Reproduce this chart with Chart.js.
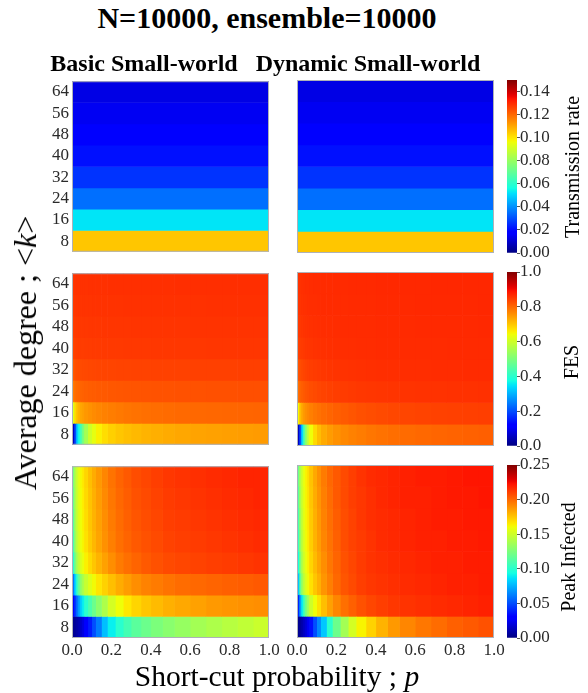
<!DOCTYPE html>
<html>
<head>
<meta charset="utf-8">
<script src="https://cdn.jsdelivr.net/npm/chart.js@4.4.0/dist/chart.umd.min.js"></script>
<style>
  body { margin: 0; background: #fff; }
  #figura { position: relative; width: 588px; height: 693px; background: #fff; overflow: hidden;
            font-family: 'Liberation Serif', 'Times New Roman', serif; color: #000; }
  #figura canvas { position: absolute; }
  .texto { position: absolute; white-space: nowrap; line-height: 1; transform: translate(-50%, -50%); }
  .negrito { font-weight: bold; }
  .vertical { transform: translate(-50%, -50%) rotate(-90deg); }
</style>
</head>
<body>
<div id="figura">
  <canvas id="taxa_basica" width="251" height="197" style="left:32px;top:68px"></canvas>
  <canvas id="taxa_dinamica" width="251" height="197" style="left:257px;top:68px"></canvas>
  <canvas id="barra_taxa" width="65" height="197" style="left:507px;top:68px"></canvas>

  <canvas id="fes_basica" width="251" height="198" style="left:32px;top:260px"></canvas>
  <canvas id="fes_dinamica" width="251" height="198" style="left:257px;top:260px"></canvas>
  <canvas id="barra_fes" width="65" height="198" style="left:507px;top:260px"></canvas>

  <canvas id="pico_basica" width="251" height="223" style="left:32px;top:453px"></canvas>
  <canvas id="pico_dinamica" width="251" height="223" style="left:257px;top:453px"></canvas>
  <canvas id="barra_pico" width="65" height="197" style="left:507px;top:453px"></canvas>

  <div class="texto negrito" style="left:267px;top:18px;font-size:30px">N=10000, ensemble=10000</div>
  <div class="texto negrito" style="left:144px;top:63px;font-size:24px">Basic Small-world</div>
  <div class="texto negrito" style="left:368px;top:63px;font-size:24px">Dynamic Small-world</div>
  <div class="texto vertical" style="left:25px;top:353px;font-size:32px">Average degree ; &lt;<i>k</i>&gt;</div>
  <div class="texto" style="left:277px;top:677px;font-size:29.5px">Short-cut probability ; <i>p</i></div>
  <div class="texto vertical" style="left:572px;top:167px;font-size:20px">Transmission rate</div>
  <div class="texto vertical" style="left:571px;top:362px;font-size:20px">FES</div>
  <div class="texto vertical" style="left:568px;top:557px;font-size:20px">Peak Infected</div>
</div>

<script>
// grau medio <k> de cada linha e bordas das faixas de p
const graus = [8, 16, 24, 32, 40, 48, 56, 64];
const pBordas = [0, 0.01, 0.02, 0.03, 0.04, 0.05, 0.06, 0.08, 0.10, 0.12, 0.15, 0.18,
                 0.22, 0.26, 0.30, 0.35, 0.40, 0.46, 0.52, 0.60, 0.68, 0.76, 0.84, 0.92, 1.0];

// rotulos dos eixos
const rotulosP = [0, 0.2, 0.4, 0.6, 0.8, 1.0];
const rotulosTaxa = [0, 0.02, 0.04, 0.06, 0.08, 0.10, 0.12, 0.14];
const rotulosFes = [0, 0.2, 0.4, 0.6, 0.8, 1.0];
const rotulosPico = [0, 0.05, 0.10, 0.15, 0.20, 0.25];

// taxa de transmissao (nao depende de p)
const taxaBasica = [0.105, 0.0525, 0.035, 0.0262, 0.021, 0.0175, 0.015, 0.0131];
const taxaDinamica = [0.105, 0.0525, 0.035, 0.0262, 0.021, 0.0175, 0.015, 0.0131];

// FES, uma linha por grau, uma coluna por faixa de p
const fesBasica = [
  [0.06, 0.20, 0.33, 0.38, 0.44, 0.50, 0.55, 0.60, 0.63, 0.655, 0.675, 0.69, 0.70, 0.708, 0.714, 0.72, 0.725, 0.729, 0.733, 0.737, 0.74, 0.742, 0.744, 0.746],
  [0.62, 0.68, 0.71, 0.725, 0.735, 0.742, 0.75, 0.757, 0.763, 0.768, 0.773, 0.778, 0.782, 0.786, 0.789, 0.792, 0.795, 0.797, 0.799, 0.80, 0.801, 0.802, 0.803, 0.804],
  [0.78, 0.795, 0.80, 0.803, 0.805, 0.807, 0.809, 0.811, 0.813, 0.815, 0.816, 0.818, 0.819, 0.82, 0.821, 0.822, 0.823, 0.823, 0.824, 0.824, 0.825, 0.825, 0.826, 0.826],
  [0.815, 0.825, 0.828, 0.83, 0.832, 0.833, 0.834, 0.835, 0.836, 0.837, 0.838, 0.838, 0.839, 0.839, 0.84, 0.84, 0.841, 0.841, 0.841, 0.842, 0.842, 0.842, 0.843, 0.843],
  [0.838, 0.843, 0.845, 0.846, 0.847, 0.847, 0.848, 0.848, 0.849, 0.849, 0.85, 0.85, 0.85, 0.851, 0.851, 0.851, 0.852, 0.852, 0.852, 0.852, 0.853, 0.853, 0.853, 0.853],
  [0.845, 0.849, 0.85, 0.851, 0.851, 0.852, 0.852, 0.853, 0.853, 0.853, 0.854, 0.854, 0.854, 0.854, 0.855, 0.855, 0.855, 0.855, 0.855, 0.856, 0.856, 0.856, 0.856, 0.856],
  [0.85, 0.853, 0.854, 0.855, 0.855, 0.856, 0.856, 0.856, 0.857, 0.857, 0.857, 0.857, 0.857, 0.858, 0.858, 0.858, 0.858, 0.858, 0.858, 0.858, 0.859, 0.859, 0.859, 0.859],
  [0.853, 0.856, 0.857, 0.857, 0.858, 0.858, 0.858, 0.859, 0.859, 0.859, 0.859, 0.86, 0.86, 0.86, 0.86, 0.86, 0.86, 0.86, 0.861, 0.861, 0.861, 0.861, 0.861, 0.861]
];
const fesDinamica = [
  [0.06, 0.20, 0.34, 0.45, 0.53, 0.59, 0.64, 0.68, 0.71, 0.73, 0.745, 0.757, 0.766, 0.773, 0.779, 0.785, 0.789, 0.793, 0.797, 0.80, 0.803, 0.805, 0.807, 0.809],
  [0.65, 0.71, 0.735, 0.75, 0.76, 0.768, 0.776, 0.784, 0.79, 0.797, 0.803, 0.809, 0.815, 0.82, 0.825, 0.829, 0.832, 0.835, 0.837, 0.839, 0.841, 0.842, 0.843, 0.844],
  [0.79, 0.805, 0.812, 0.817, 0.821, 0.824, 0.828, 0.832, 0.836, 0.839, 0.842, 0.845, 0.848, 0.85, 0.852, 0.853, 0.854, 0.855, 0.856, 0.857, 0.857, 0.858, 0.858, 0.859],
  [0.82, 0.83, 0.835, 0.838, 0.841, 0.843, 0.845, 0.848, 0.85, 0.852, 0.854, 0.856, 0.857, 0.858, 0.859, 0.86, 0.861, 0.861, 0.862, 0.862, 0.863, 0.863, 0.864, 0.864],
  [0.84, 0.846, 0.849, 0.851, 0.853, 0.854, 0.855, 0.857, 0.858, 0.859, 0.86, 0.861, 0.862, 0.862, 0.863, 0.863, 0.864, 0.864, 0.865, 0.865, 0.865, 0.866, 0.866, 0.866],
  [0.848, 0.852, 0.854, 0.856, 0.857, 0.858, 0.859, 0.86, 0.861, 0.862, 0.862, 0.863, 0.864, 0.864, 0.865, 0.865, 0.866, 0.866, 0.866, 0.867, 0.867, 0.867, 0.867, 0.868],
  [0.852, 0.856, 0.858, 0.859, 0.86, 0.861, 0.862, 0.862, 0.863, 0.864, 0.864, 0.865, 0.865, 0.866, 0.866, 0.866, 0.867, 0.867, 0.867, 0.868, 0.868, 0.868, 0.868, 0.869],
  [0.855, 0.858, 0.86, 0.861, 0.862, 0.862, 0.863, 0.864, 0.864, 0.865, 0.865, 0.866, 0.866, 0.867, 0.867, 0.867, 0.868, 0.868, 0.868, 0.868, 0.869, 0.869, 0.869, 0.869]
];

// pico de infectados
const picoBasica = [
  [0.004, 0.006, 0.009, 0.012, 0.016, 0.021, 0.028, 0.038, 0.05, 0.062, 0.078, 0.09, 0.10, 0.108, 0.115, 0.12, 0.125, 0.129, 0.133, 0.137, 0.14, 0.143, 0.146, 0.149],
  [0.03, 0.045, 0.06, 0.072, 0.082, 0.09, 0.10, 0.11, 0.12, 0.13, 0.14, 0.152, 0.16, 0.166, 0.171, 0.175, 0.178, 0.181, 0.183, 0.185, 0.187, 0.188, 0.189, 0.19],
  [0.06, 0.085, 0.105, 0.12, 0.132, 0.14, 0.148, 0.155, 0.161, 0.167, 0.172, 0.177, 0.182, 0.186, 0.19, 0.193, 0.195, 0.197, 0.199, 0.20, 0.201, 0.202, 0.203, 0.204],
  [0.10, 0.125, 0.14, 0.148, 0.154, 0.159, 0.164, 0.17, 0.175, 0.18, 0.185, 0.19, 0.195, 0.198, 0.201, 0.204, 0.206, 0.208, 0.209, 0.21, 0.211, 0.212, 0.213, 0.214],
  [0.11, 0.135, 0.147, 0.154, 0.159, 0.163, 0.168, 0.174, 0.179, 0.184, 0.189, 0.194, 0.198, 0.201, 0.204, 0.206, 0.208, 0.21, 0.211, 0.212, 0.213, 0.214, 0.215, 0.216],
  [0.115, 0.138, 0.149, 0.156, 0.16, 0.164, 0.169, 0.175, 0.18, 0.185, 0.19, 0.195, 0.199, 0.202, 0.205, 0.207, 0.209, 0.211, 0.212, 0.213, 0.214, 0.215, 0.216, 0.217],
  [0.12, 0.14, 0.15, 0.157, 0.161, 0.165, 0.17, 0.176, 0.181, 0.186, 0.191, 0.196, 0.20, 0.203, 0.206, 0.208, 0.21, 0.212, 0.213, 0.214, 0.215, 0.216, 0.217, 0.218],
  [0.125, 0.142, 0.151, 0.158, 0.162, 0.166, 0.171, 0.177, 0.182, 0.187, 0.192, 0.197, 0.201, 0.204, 0.207, 0.209, 0.211, 0.213, 0.214, 0.215, 0.216, 0.217, 0.218, 0.218]
];
const picoDinamica = [
  [0.004, 0.006, 0.01, 0.015, 0.02, 0.026, 0.035, 0.05, 0.065, 0.08, 0.10, 0.12, 0.137, 0.152, 0.163, 0.172, 0.18, 0.187, 0.192, 0.196, 0.199, 0.202, 0.204, 0.206],
  [0.04, 0.07, 0.09, 0.11, 0.125, 0.137, 0.15, 0.16, 0.168, 0.177, 0.185, 0.192, 0.198, 0.202, 0.206, 0.209, 0.211, 0.213, 0.214, 0.215, 0.216, 0.217, 0.218, 0.219],
  [0.08, 0.115, 0.135, 0.147, 0.155, 0.161, 0.168, 0.175, 0.181, 0.188, 0.194, 0.20, 0.205, 0.208, 0.211, 0.213, 0.214, 0.215, 0.216, 0.217, 0.218, 0.219, 0.219, 0.22],
  [0.095, 0.125, 0.142, 0.152, 0.159, 0.164, 0.171, 0.178, 0.184, 0.19, 0.196, 0.201, 0.206, 0.209, 0.212, 0.214, 0.215, 0.216, 0.217, 0.218, 0.219, 0.219, 0.22, 0.22],
  [0.105, 0.132, 0.146, 0.155, 0.161, 0.166, 0.173, 0.18, 0.186, 0.192, 0.197, 0.202, 0.207, 0.21, 0.212, 0.214, 0.216, 0.217, 0.218, 0.219, 0.219, 0.22, 0.22, 0.221],
  [0.11, 0.135, 0.148, 0.157, 0.162, 0.167, 0.174, 0.181, 0.187, 0.193, 0.198, 0.203, 0.207, 0.21, 0.213, 0.215, 0.216, 0.217, 0.218, 0.219, 0.22, 0.22, 0.221, 0.221],
  [0.115, 0.138, 0.15, 0.158, 0.163, 0.168, 0.175, 0.182, 0.188, 0.194, 0.199, 0.204, 0.208, 0.211, 0.213, 0.215, 0.217, 0.218, 0.219, 0.219, 0.22, 0.221, 0.221, 0.222],
  [0.12, 0.14, 0.151, 0.159, 0.164, 0.169, 0.176, 0.183, 0.189, 0.195, 0.20, 0.204, 0.208, 0.211, 0.214, 0.216, 0.217, 0.218, 0.219, 0.22, 0.22, 0.221, 0.222, 0.222]
];

Chart.defaults.font.family = "'Liberation Serif', 'Times New Roman', serif";
Chart.defaults.font.size = 17;
Chart.defaults.color = '#2a2a2a';

// mapa de cores "jet"
function jet(t) {
  t = Math.min(1, Math.max(0, t));
  function canal(pts) {
    for (let i = 1; i < pts.length; i++) {
      if (t <= pts[i][0]) {
        const a = pts[i - 1], b = pts[i];
        return a[1] + (b[1] - a[1]) * (t - a[0]) / (b[0] - a[0]);
      }
    }
    return pts[pts.length - 1][1];
  }
  const r = canal([[0, 0], [0.35, 0], [0.66, 1], [0.89, 1], [1, 0.5]]);
  const g = canal([[0, 0], [0.125, 0], [0.375, 1], [0.64, 1], [0.91, 0], [1, 0]]);
  const b = canal([[0, 0.5], [0.11, 1], [0.34, 1], [0.65, 0], [1, 0]]);
  return 'rgb(' + Math.round(r * 255) + ',' + Math.round(g * 255) + ',' + Math.round(b * 255) + ')';
}

// contorno cinza em volta da area do grafico
const moldura = {
  id: 'moldura',
  afterDatasetsDraw(chart) {
    const a = chart.chartArea;
    const c = chart.ctx;
    c.save();
    c.strokeStyle = '#aeb1b8';
    c.lineWidth = 1;
    c.strokeRect(a.left + 0.5, a.top + 0.5, a.right - a.left - 1, a.bottom - a.top - 1);
    c.restore();
  }
};

function desenharMapa(idCanvas, bordas, matriz, vmax, mostrarY, mostrarX) {
  const conjuntos = [];
  for (let j = 0; j < bordas.length - 1; j++) {
    conjuntos.push({
      data: graus.map(() => [bordas[j], bordas[j + 1]]),
      backgroundColor: graus.map((k, i) => jet(matriz[i][j] / vmax)),
      borderWidth: 0,
      barPercentage: 1,
      categoryPercentage: 1,
      grouped: false
    });
  }

  new Chart(document.getElementById(idCanvas), {
    type: 'bar',
    data: { labels: graus.map(String), datasets: conjuntos },
    options: {
      indexAxis: 'y',
      responsive: false,
      animation: false,
      events: [],
      layout: { padding: { top: 12, right: 14, bottom: 12, left: 0 } },
      plugins: { legend: { display: false }, tooltip: { enabled: false } },
      scales: {
        x: {
          type: 'linear',
          min: 0,
          max: 1,
          grid: { display: false, drawTicks: false },
          border: { display: false },
          afterBuildTicks: (s) => { s.ticks = rotulosP.map(v => ({ value: v })); },
          afterFit: (s) => { s.height = mostrarX ? 26 : 0; },
          ticks: { display: mostrarX, padding: 2, maxRotation: 0, callback: v => v.toFixed(1) }
        },
        y: {
          type: 'category',
          reverse: true,
          grid: { display: false, drawTicks: false },
          border: { display: false },
          afterFit: (s) => { s.width = 40; },
          ticks: { display: mostrarY, padding: 3, autoSkip: false }
        }
      }
    },
    plugins: [moldura]
  });
}

function desenharBarra(idCanvas, vmax, rotulos, casas) {
  new Chart(document.getElementById(idCanvas), {
    type: 'bar',
    data: {
      labels: [''],
      datasets: [{
        data: [[0, vmax]],
        borderWidth: 0,
        barPercentage: 1,
        categoryPercentage: 1,
        backgroundColor: function(context) {
          const escala = context.chart.scales.y;
          if (!escala) return '#00f';
          const y0 = escala.getPixelForValue(0);
          const y1 = escala.getPixelForValue(vmax);
          if (!isFinite(y0) || !isFinite(y1)) return '#00f';
          const g = context.chart.ctx.createLinearGradient(0, y0, 0, y1);
          for (let i = 0; i <= 64; i++) g.addColorStop(i / 64, jet(i / 64));
          return g;
        }
      }]
    },
    options: {
      responsive: false,
      animation: false,
      events: [],
      layout: { padding: { top: 12, right: 5, bottom: 12, left: 0 } },
      plugins: { legend: { display: false }, tooltip: { enabled: false } },
      scales: {
        x: { display: false },
        y: {
          position: 'right',
          min: 0,
          max: vmax,
          border: { display: false },
          grid: { drawOnChartArea: false, tickLength: 3, color: '#555' },
          afterBuildTicks: (s) => { s.ticks = rotulos.map(v => ({ value: v })); },
          afterFit: (s) => { s.width = 50; },
          ticks: { padding: 0, callback: v => v.toFixed(casas) }
        }
      }
    }
  });
}

desenharMapa('taxa_basica', [0, 1], taxaBasica.map(v => [v]), 0.15, true, false);
desenharMapa('taxa_dinamica', [0, 1], taxaDinamica.map(v => [v]), 0.15, false, false);
desenharBarra('barra_taxa', 0.15, rotulosTaxa, 2);

desenharMapa('fes_basica', pBordas, fesBasica, 1.0, true, false);
desenharMapa('fes_dinamica', pBordas, fesDinamica, 1.0, false, false);
desenharBarra('barra_fes', 1.0, rotulosFes, 1);

desenharMapa('pico_basica', pBordas, picoBasica, 0.25, true, true);
desenharMapa('pico_dinamica', pBordas, picoDinamica, 0.25, false, true);
desenharBarra('barra_pico', 0.25, rotulosPico, 2);
</script>
</body>
</html>
